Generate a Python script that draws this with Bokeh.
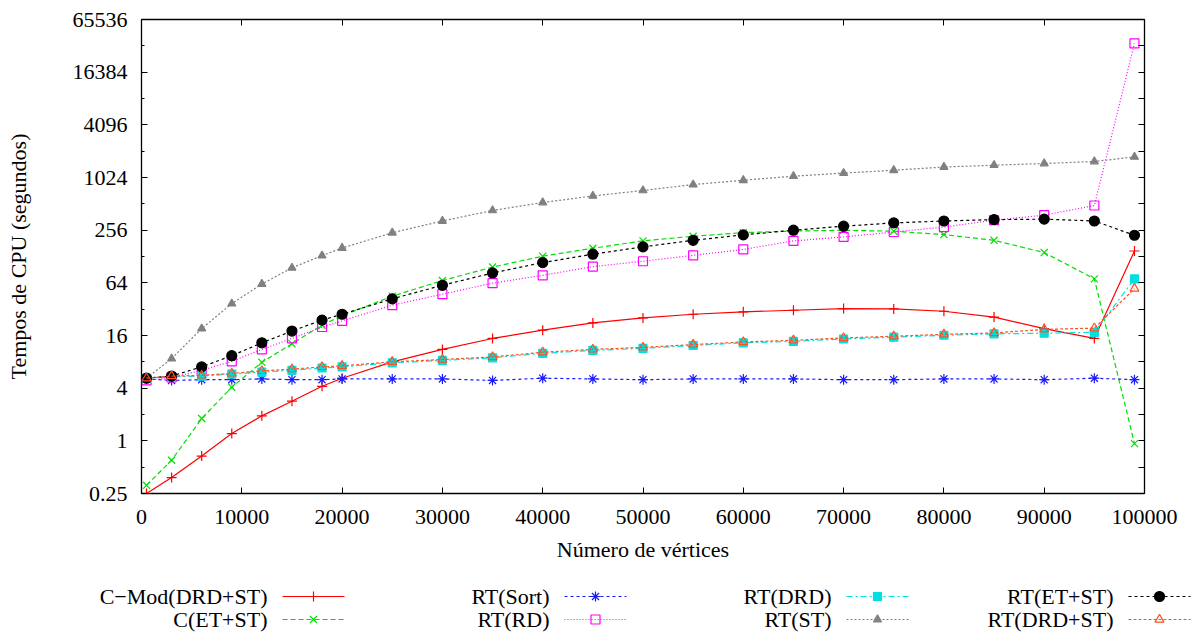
from bokeh.plotting import figure
from bokeh.models import (Range1d, FixedTicker, LinearAxis, LogAxis,
                          CustomJSTickFormatter, BasicTickFormatter)
from bokeh.layouts import column
from bokeh.core.properties import value
from bokeh.embed import file_html
from bokeh.resources import INLINE

# ---------------- data ----------------
vertices = [500, 3000, 6000, 9000, 12000, 15000, 18000, 20000, 25000, 30000,
            35000, 40000, 45000, 50000, 55000, 60000, 65000, 70000, 75000,
            80000, 85000, 90000, 95000, 99000]

cmod_drd_st = [0.25, 0.38, 0.67, 1.21, 1.93, 2.84, 4.2, 5.2, 8.0, 11.1, 14.8,
               18.4, 22.3, 25.4, 28.0, 29.8, 31.1, 32.5, 32.2, 30.3, 26.0,
               19.2, 14.8, 148]
c_et_st = [0.31, 0.6, 1.8, 4.1, 7.9, 12.9, 21, 27, 45, 68, 97, 129, 159, 193,
           218, 240, 250, 255, 249, 228, 196, 142, 71, 0.93]
rt_sort = [5.1, 4.9, 5.0, 5.0, 5.1, 5.0, 5.0, 5.1, 5.1, 5.1, 4.9, 5.2, 5.1,
           5.0, 5.1, 5.1, 5.1, 5.0, 5.0, 5.1, 5.1, 5.0, 5.2, 5.0]
rt_rd = [4.9, 5.3, 6.4, 8.1, 11.1, 14.8, 20, 23.5, 35.5, 47.5, 63.5, 78, 98,
         113, 132, 154, 193, 214, 244, 278, 333, 380, 490, 34900]
rt_drd = [5.2, 5.4, 5.5, 5.8, 6.1, 6.4, 6.8, 7.0, 7.8, 8.3, 8.9, 10.0, 10.8,
          11.4, 12.3, 13.2, 13.7, 14.6, 15.3, 16.1, 16.7, 17.0, 17.4, 71]
rt_st = [5.2, 8.7, 19.2, 37, 62, 95, 131, 160, 239, 326, 430, 530, 630, 728,
         850, 953, 1060, 1150, 1240, 1350, 1415, 1480, 1560, 1760]
rt_et_st = [5.2, 5.5, 7.0, 9.4, 13.2, 18, 24, 28, 42, 60, 83, 109, 136, 165,
            196, 226, 256, 284, 310, 326, 338, 342, 326, 224]
rt_drd_st = [5.2, 5.5, 5.6, 5.9, 6.3, 6.6, 7.0, 7.2, 8.0, 8.5, 9.1, 10.3,
             11.1, 11.7, 12.6, 13.5, 14.1, 15.0, 15.7, 16.5, 17.1, 18.8, 19.4,
             55]

labels = ["C\u2212Mod(DRD+ST)", "C(ET+ST)", "RT(Sort)", "RT(RD)", "RT(DRD)",
          "RT(ST)", "RT(ET+ST)", "RT(DRD+ST)"]
series = [cmod_drd_st, c_et_st, rt_sort, rt_rd, rt_drd, rt_st, rt_et_st,
          rt_drd_st]

x_ticks = [0, 10000, 20000, 30000, 40000, 50000, 60000, 70000, 80000, 90000,
           100000]
y_ticks = [0.25, 1, 4, 16, 64, 256, 1024, 4096, 16384, 65536]
y_minor = [0.5, 2, 8, 32, 128, 512, 2048, 8192, 32768]

# ---------------- styles ----------------
styles = [
    dict(color="#ff0000", dash="solid", marker="cross", size=10, fill=True),
    dict(color="#00e000", dash="5 3", marker="x", size=10, fill=True),
    dict(color="#1a1aff", dash="3 3", marker="asterisk", size=10, fill=True),
    dict(color="#ff00ff", dash="1 2", marker="square", size=9, fill=False),
    dict(color="#00e0e0", dash="6 3 2 3", marker="square", size=8, fill=True),
    dict(color="#808080", dash="2 2", marker="triangle", size=8, fill=True),
    dict(color="#000000", dash="3 3", marker="circle", size=10, fill=True),
    dict(color="#ff5020", dash="3 2", marker="triangle", size=9, fill=False),
]

FONT = "Liberation Serif"
FS = "22px"

# ---------------- main plot ----------------
p = figure(width=1201, height=570,
           x_range=Range1d(0, 100000), y_range=Range1d(0.25, 65536),
           y_axis_type="log", output_backend="svg", toolbar_location=None,
           min_border_left=141, min_border_right=57, min_border_top=19,
           min_border_bottom=77)
p.grid.visible = False
p.outline_line_color = "black"
p.outline_line_width = 1.3
p.background_fill_color = "white"
p.border_fill_color = "white"

xa = p.xaxis[0]
xa.ticker = FixedTicker(ticks=x_ticks, minor_ticks=[])
xa.formatter = BasicTickFormatter(use_scientific=False)
xa.axis_label = "Número de vértices"
ya = p.yaxis[0]
ya.ticker = FixedTicker(ticks=y_ticks, minor_ticks=y_minor)
ya.formatter = CustomJSTickFormatter(code="return tick.toString();")
ya.axis_label = "Tempos de CPU (segundos)"

for ax in (xa, ya):
    ax.axis_line_color = None
    ax.major_tick_in = 6
    ax.major_tick_out = 0
    ax.minor_tick_in = 3
    ax.minor_tick_out = 0
    ax.major_tick_line_color = "black"
    ax.minor_tick_line_color = "black"
    ax.major_label_text_font = FONT
    ax.major_label_text_font_size = FS
    ax.major_label_text_color = "black"
    ax.axis_label_text_font = FONT
    ax.axis_label_text_font_size = FS
    ax.axis_label_text_font_style = "normal"
    ax.axis_label_text_color = "black"

xa.major_label_standoff = 16
xa.axis_label_standoff = 10
ya.major_label_standoff = 14
ya.axis_label_standoff = 39

top = LinearAxis(ticker=FixedTicker(ticks=x_ticks, minor_ticks=[]),
                 formatter=CustomJSTickFormatter(code="return '';"))
right = LogAxis(ticker=FixedTicker(ticks=y_ticks, minor_ticks=y_minor),
                formatter=CustomJSTickFormatter(code="return '';"))
for ax in (top, right):
    ax.axis_line_color = None
    ax.major_tick_in = 6
    ax.major_tick_out = 0
    ax.minor_tick_in = 6
    ax.minor_tick_out = 0
    ax.major_label_standoff = 0
    ax.major_label_text_font_size = "1px"
p.add_layout(top, "above")
p.add_layout(right, "right")

for vals, st in zip(series, styles):
    p.line(vertices, vals, line_color=st["color"], line_dash=st["dash"],
           line_width=1.2)
    p.scatter(vertices, vals, marker=st["marker"], size=st["size"],
              line_color=st["color"], line_width=1.2,
              fill_color=st["color"] if st["fill"] else None)

# ---------------- legend (gnuplot style: text then sample) ----------------
lg = figure(width=1201, height=63, x_range=Range1d(0, 1201),
            y_range=Range1d(63, 0), output_backend="svg",
            toolbar_location=None, min_border=0)
lg.frame_align = False
lg.axis.visible = False
lg.grid.visible = False
lg.outline_line_color = None

COL0, COLW, ROW0, ROWH = 267, 282, 26, 23
for i, (lab, st) in enumerate(zip(labels, styles)):
    col, row = i // 2, i % 2
    tx = COL0 + COLW * col
    ty = ROW0 + ROWH * row
    lg.text(x=[tx], y=[ty], text=[lab], text_align="right",
            text_baseline="middle", text_font=value(FONT),
            text_font_size=FS, text_color="black")
    lg.line([tx + 15, tx + 77], [ty, ty], line_color=st["color"],
            line_dash=st["dash"], line_width=1.2)
    lg.scatter([tx + 46], [ty], marker=st["marker"], size=st["size"],
               line_color=st["color"], line_width=1.2,
               fill_color=st["color"] if st["fill"] else None)

layout = column(p, lg, spacing=0)
open("out.html", "w").write(file_html(layout, INLINE))
